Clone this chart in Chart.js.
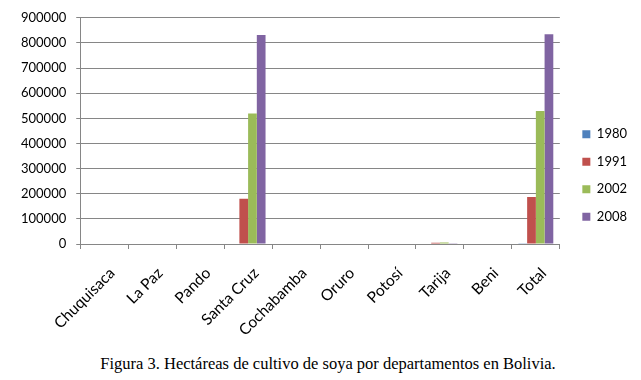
<!DOCTYPE html>
<html>
<head>
<meta charset="utf-8">
<script src="https://cdn.jsdelivr.net/npm/chart.js@4"></script>
<style>
  html, body { margin: 0; padding: 0; background: #fff; }
  #wrap { position: relative; width: 641px; height: 380px; }
  #box { position: absolute; left: 0; top: 0; width: 641px; height: 345px; }
  #caption {
    position: absolute; left: 328px; top: 356px; transform: translateX(-50%); white-space: nowrap;
    font-family: "Liberation Serif", serif; font-size: 16.5px; line-height: 1; color: #000;
  }
</style>
</head>
<body>
<div id="wrap">
  <div id="box"><canvas id="soyaChart"></canvas></div>
  <div id="caption">Figura 3. Hectáreas de cultivo de soya por departamentos en Bolivia.</div>
</div>
<script>
// departamentos
const departamentos = ['Chuquisaca', 'La Paz', 'Pando', 'Santa Cruz', 'Cochabamba', 'Oruro', 'Potosí', 'Tarija', 'Beni', 'Total'];

// hectáreas por año
const ha1980 = [0, 0, 0, 1500, 0, 0, 0, 0, 0, 2500];
const ha1991 = [0, 0, 0, 180000, 0, 0, 0, 5000, 0, 187000];
const ha2002 = [0, 0, 0, 519000, 0, 0, 0, 6000, 0, 529000];
const ha2008 = [0, 0, 0, 832000, 0, 0, 0, 1000, 0, 835000];

const yTicks = [0, 100000, 200000, 300000, 400000, 500000, 600000, 700000, 800000, 900000];

const gridColor = '#868686';
const numFont = { family: 'Lato', size: 13 };
const catFont = { family: 'Lato', size: 15.5 };

function drawChart() {
    const ctx = document.getElementById('soyaChart').getContext('2d');
    new Chart(ctx, {
        type: 'bar',
        data: {
            labels: departamentos,
            datasets: [
                { label: '1980', data: ha1980, backgroundColor: '#4F81BD' },
                { label: '1991', data: ha1991, backgroundColor: '#C0504D' },
                { label: '2002', data: ha2002, backgroundColor: '#9BBB59' },
                { label: '2008', data: ha2008, backgroundColor: '#8064A2' }
            ]
        },
        options: {
            responsive: true,
            maintainAspectRatio: false,
            animation: false,
            datasets: {
                bar: { categoryPercentage: 4 / 5.5, barPercentage: 1 }
            },
            layout: { padding: { left: 11, right: 4, top: 7, bottom: 1 } },
            scales: {
                x: {
                    grid: { display: true, drawOnChartArea: false, color: gridColor, tickLength: 5, offset: true },
                    border: { color: gridColor },
                    ticks: {
                        color: '#000',
                        font: catFont,
                        minRotation: 45, maxRotation: 45, padding: 15, labelOffset: 8
                    },
                    // tall enough so the rotated labels are not clipped
                    afterFit: s => { s.height = 100; }
                },
                y: {
                    min: 0, max: 900000,
                    afterBuildTicks: axis => { axis.ticks = yTicks.map(v => ({ value: v })); },
                    grid: { color: gridColor, tickLength: 4 },
                    border: { color: gridColor },
                    ticks: {
                        color: '#000',
                        font: numFont,
                        padding: 10,
                        callback: v => String(v)
                    }
                },
                // empty spacer between plot and legend
                gap: {
                    position: 'right',
                    grid: { display: false },
                    border: { display: false },
                    ticks: { display: false },
                    afterFit: s => { s.width = 8; }
                }
            },
            plugins: {
                legend: {
                    position: 'right',
                    labels: {
                        color: '#000',
                        font: numFont,
                        boxWidth: 8, boxHeight: 8, padding: 14.5
                    }
                },
                tooltip: { enabled: false }
            }
        }
    });
}

// make sure Lato is loaded before Chart.js measures the labels
Promise.all([document.fonts.load('13px Lato'), document.fonts.load('15.5px Lato')])
    .then(drawChart, drawChart);
</script>
</body>
</html>
